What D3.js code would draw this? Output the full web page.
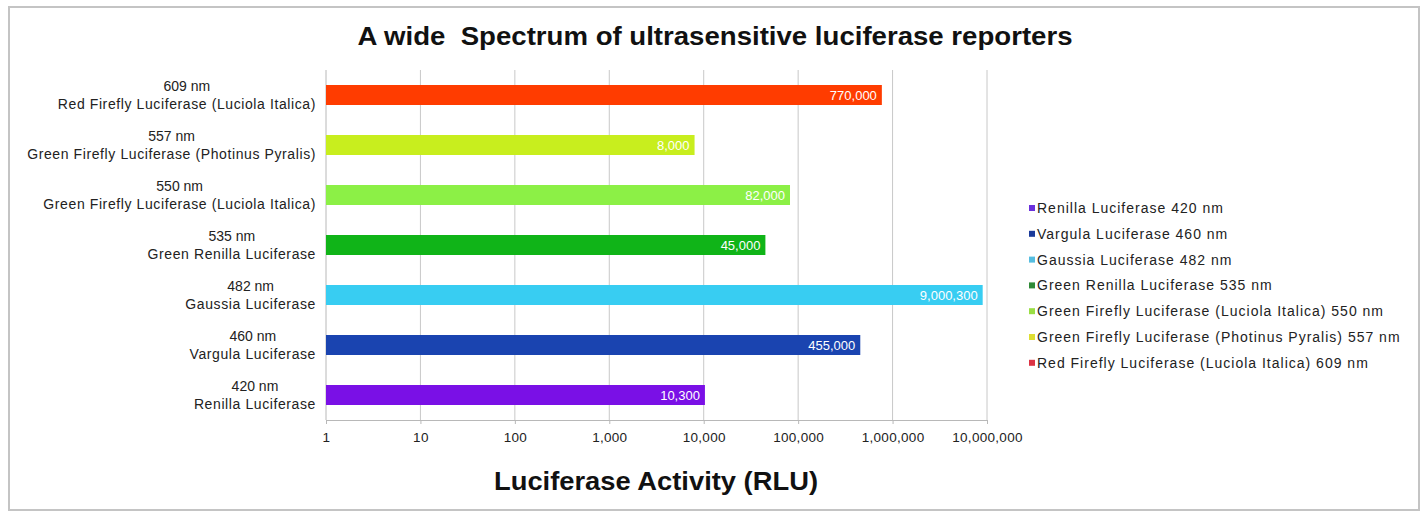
<!DOCTYPE html>
<html>
<head>
<meta charset="utf-8">
<script src="https://cdn.jsdelivr.net/npm/d3@7"></script>
<style>
  body { margin: 0; background: #fff; }
  svg { font-family: "Liberation Sans", Arial, sans-serif; }
</style>
</head>
<body>
<div id="chart"></div>
<script>
// data, top to bottom as drawn
let wavelengths = ["609 nm", "557 nm", "550 nm", "535 nm", "482 nm", "460 nm", "420 nm"];
let names = [
  "Red Firefly Luciferase (Luciola Italica)",
  "Green Firefly Luciferase (Photinus Pyralis)",
  "Green Firefly Luciferase (Luciola Italica)",
  "Green Renilla Luciferase",
  "Gaussia Luciferase",
  "Vargula Luciferase",
  "Renilla Luciferase"
];
let rlu = [770000, 8000, 82000, 45000, 9000300, 455000, 10300];
let colors = ["#ff3c00", "#c8ee1e", "#8cf046", "#10b418", "#38cdf2", "#1a44b0", "#7a10e6"];

let legendLabels = [
  "Renilla Luciferase 420 nm",
  "Vargula Luciferase 460 nm",
  "Gaussia Luciferase 482 nm",
  "Green Renilla Luciferase 535 nm",
  "Green Firefly Luciferase (Luciola Italica) 550 nm",
  "Green Firefly Luciferase (Photinus Pyralis) 557 nm",
  "Red Firefly Luciferase (Luciola Italica) 609 nm"
];
let legendColors = ["#6a30dc", "#1a3a9a", "#55bde0", "#2f8a36", "#9ade44", "#dede33", "#dc3344"];
let tickValues = [1, 10, 100, 1000, 10000, 100000, 1000000, 10000000];

let w = 1424, h = 512;
let plotLeft = 326, plotRight = 987, plotTop = 70, plotBottom = 420;

let svg = d3.select("#chart").append("svg")
  .attr("width", w).attr("height", h);

// frame
svg.append("rect")
  .attr("x", 9).attr("y", 7).attr("width", 1410).attr("height", 503)
  .attr("fill", "#fff").attr("stroke", "#c4c4c4").attr("stroke-width", 2);

let xScale = d3.scaleLog().domain([1, 1e7]).range([plotLeft, plotRight]);
let yScale = d3.scaleBand().domain(names).range([plotTop, plotBottom]).paddingInner(0.6).paddingOuter(0.3);

// gridlines
svg.append("g").selectAll("line")
  .data(tickValues.slice(1))
  .join("line")
    .attr("x1", d => xScale(d)).attr("x2", d => xScale(d))
    .attr("y1", plotTop).attr("y2", plotBottom)
    .attr("stroke", "#c8c8c8").attr("stroke-width", 1);

// x axis
let xAxis = d3.axisBottom(xScale)
  .tickValues(tickValues)
  .tickFormat(d3.format(","))
  .tickSize(4).tickPadding(8);
let gx = svg.append("g")
  .attr("transform", "translate(0," + plotBottom + ")")
  .call(xAxis);
gx.select(".domain").attr("stroke", "#b8b8b8");
gx.selectAll(".tick line").attr("stroke", "#b8b8b8");
gx.selectAll("text").attr("font-size", "13.5px").attr("fill", "#222")
  .style("letter-spacing", "0.3px");

// y axis line
svg.append("line")
  .attr("x1", plotLeft).attr("x2", plotLeft).attr("y1", plotTop).attr("y2", plotBottom)
  .attr("stroke", "#b8b8b8");

// bars
svg.append("g").selectAll("rect")
  .data(names)
  .join("rect")
    .attr("x", plotLeft)
    .attr("y", d => yScale(d))
    .attr("height", yScale.bandwidth())
    .attr("width", (d, i) => xScale(rlu[i]) - plotLeft)
    .attr("fill", (d, i) => colors[i]);

// value labels
svg.append("g").selectAll("text")
  .data(names)
  .join("text")
    .attr("x", (d, i) => xScale(rlu[i]) - 5)
    .attr("y", d => yScale(d) + yScale.bandwidth() / 2)
    .attr("dy", "0.36em")
    .attr("text-anchor", "end")
    .attr("fill", "#fff")
    .attr("font-size", "13px")
    .text((d, i) => d3.format(",")(rlu[i]));

// category labels, two lines each
let labelRight = 316;
names.forEach((name, i) => {
  let cy = yScale(name) + yScale.bandwidth() / 2;
  let g = svg.append("g");
  let line2 = g.append("text")
    .attr("x", labelRight).attr("y", cy + 9).attr("dy", "0.35em")
    .attr("text-anchor", "end").attr("font-size", "14px").attr("fill", "#222")
    .style("letter-spacing", "0.6px")
    .text(name);
  let lw = line2.node().getComputedTextLength();
  g.append("text")
    .attr("x", labelRight - lw / 2).attr("y", cy - 9).attr("dy", "0.35em")
    .attr("text-anchor", "middle").attr("font-size", "14px").attr("fill", "#222")
    .text(wavelengths[i]);
});

// title
svg.append("text")
  .attr("x", 715).attr("y", 45)
  .attr("text-anchor", "middle")
  .attr("font-size", "25px").attr("font-weight", "bold").attr("fill", "#111")
  .attr("textLength", 715).attr("lengthAdjust", "spacingAndGlyphs")
  .style("white-space", "pre")
  .text("A wide  Spectrum of ultrasensitive luciferase reporters");

// x axis title
svg.append("text")
  .attr("x", 656).attr("y", 490)
  .attr("text-anchor", "middle")
  .attr("font-size", "25px").attr("font-weight", "bold").attr("fill", "#111")
  .attr("textLength", 324).attr("lengthAdjust", "spacingAndGlyphs")
  .text("Luciferase Activity (RLU)");

// legend
let legend = svg.append("g");
legendLabels.forEach((lab, i) => {
  let y = 208 + i * 25.8;
  legend.append("rect")
    .attr("x", 1029).attr("y", y - 3).attr("width", 6).attr("height", 6)
    .attr("fill", legendColors[i]);
  legend.append("text")
    .attr("x", 1037).attr("y", y).attr("dy", "0.35em")
    .attr("font-size", "14px").attr("fill", "#222")
    .style("letter-spacing", "1px")
    .text(lab);
});
</script>
</body>
</html>
